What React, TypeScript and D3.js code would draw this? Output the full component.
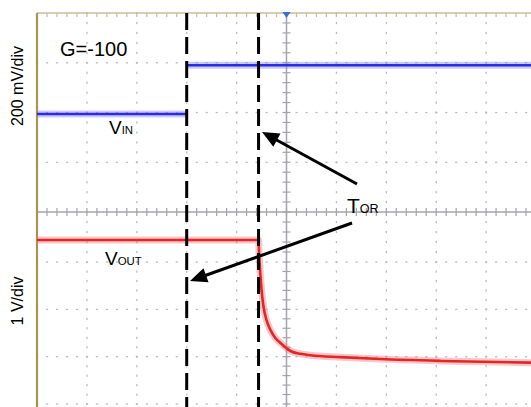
import { useEffect, useRef } from "react";
import * as d3 from "d3";

// time axis in divisions (0 = screen centre)
const vinLowTime = [-5, -2.0];
const vinLowLevel = [1.97, 1.97];
const vinHighTime = [-2.0, 5.1];
const vinHighLevel = [2.95, 2.95];

const voutTime = [-5, -0.56, -0.55, -0.5, -0.46, -0.4, -0.32, -0.22, -0.12, 0.08, 0.28, 0.48, 1.08, 1.88, 3.09, 5.1];
const voutLevel = [-0.56, -0.56, -0.8, -1.59, -1.95, -2.23, -2.44, -2.61, -2.71, -2.88, -2.94, -2.97, -3.01, -3.05, -3.09, -3.13];

const cursorTimes = [-2.0, -0.56];
const channelLabels = ["200 mV/div", "1 V/div"];

const W = 531;
const H = 407;

export default function App() {
  const ref = useRef<SVGSVGElement | null>(null);

  useEffect(() => {
    const svg = d3.select(ref.current);
    svg.selectAll("*").remove();

    const x = d3.scaleLinear().domain([-5, 5]).range([37, 536]);
    const y = d3.scaleLinear().domain([4, 0, -1, -4]).range([13, 212, 262, 404]);

    const g = svg.append("g");

    // dotted grid
    const minorX = d3.range(-5, 5.01, 0.2);
    const minorY = d3.range(-4.6, 4.01, 0.2);
    [-4, -3, -2, -1, 1, 2, 3, 4].forEach(t => {
      g.selectAll(null)
        .data(minorY)
        .enter()
        .append("rect")
        .attr("x", x(t) - 0.6)
        .attr("y", d => y(d) - 1)
        .attr("width", 1.3)
        .attr("height", 2.2)
        .attr("fill", "#bcbcbc");
    });
    [3, 2, 1, -1, -2, -3, -4].forEach(v => {
      g.selectAll(null)
        .data(minorX)
        .enter()
        .append("rect")
        .attr("x", d => x(d) - 1)
        .attr("y", y(v) - 0.6)
        .attr("width", 2.2)
        .attr("height", 1.3)
        .attr("fill", "#bcbcbc");
    });

    // centre axes with minor ticks
    g.append("line")
      .attr("x1", x(0)).attr("x2", x(0))
      .attr("y1", y(4)).attr("y2", H)
      .attr("stroke", "#a4a4ac").attr("stroke-width", 1.5);
    g.append("line")
      .attr("x1", x(-5)).attr("x2", W)
      .attr("y1", y(0)).attr("y2", y(0))
      .attr("stroke", "#a4a4ac").attr("stroke-width", 1.5);
    g.selectAll(null)
      .data(minorY)
      .enter()
      .append("line")
      .attr("x1", x(0) - 4).attr("x2", x(0) + 4)
      .attr("y1", d => y(d)).attr("y2", d => y(d))
      .attr("stroke", "#a4a4ac").attr("stroke-width", 1.2);
    g.selectAll(null)
      .data(minorX)
      .enter()
      .append("line")
      .attr("x1", d => x(d)).attr("x2", d => x(d))
      .attr("y1", y(0) - 4).attr("y2", y(0) + 4)
      .attr("stroke", "#a4a4ac").attr("stroke-width", 1.2);

    // frame (top + left)
    g.append("line")
      .attr("x1", x(-5)).attr("x2", W)
      .attr("y1", y(4)).attr("y2", y(4))
      .attr("stroke", "#c8bc98").attr("stroke-width", 1.5);
    g.selectAll(null)
      .data(minorX)
      .enter()
      .append("line")
      .attr("x1", d => x(d)).attr("x2", d => x(d))
      .attr("y1", y(4)).attr("y2", y(4) + 4)
      .attr("stroke", "#c8bc98").attr("stroke-width", 1.2);
    g.append("line")
      .attr("x1", x(-5)).attr("x2", x(-5))
      .attr("y1", y(4)).attr("y2", H)
      .attr("stroke", "#a89450").attr("stroke-width", 2.2);

    // trigger marker
    g.append("path")
      .attr("d", `M${x(0) - 4},${y(4) - 1}L${x(0) + 4},${y(4) - 1}L${x(0)},${y(4) + 5}Z`)
      .attr("fill", "#3a6ed0");

    // traces
    const line = d3.line<[number, number]>().x(d => x(d[0])).y(d => y(d[1])).curve(d3.curveMonotoneX);
    const zip = (ts: number[], vs: number[]) => ts.map((t, i) => [t, vs[i]] as [number, number]);

    const drawTrace = (pts: [number, number][], halo: string, core: string) => {
      g.append("path").attr("d", line(pts)).attr("fill", "none")
        .attr("stroke", halo).attr("stroke-opacity", 0.4).attr("stroke-width", 7);
      g.append("path").attr("d", line(pts)).attr("fill", "none")
        .attr("stroke", core).attr("stroke-width", 2.6);
    };
    drawTrace(zip(vinLowTime, vinLowLevel), "#7c7cf6", "#2b2be0");
    drawTrace(zip(vinHighTime, vinHighLevel), "#7c7cf6", "#2b2be0");
    drawTrace(zip(voutTime, voutLevel), "#f27474", "#e2262a");

    // cursors
    g.selectAll(null)
      .data(cursorTimes)
      .enter()
      .append("line")
      .attr("x1", d => x(d)).attr("x2", d => x(d))
      .attr("y1", y(4)).attr("y2", H)
      .attr("stroke", "#000").attr("stroke-width", 3)
      .attr("stroke-dasharray", "17,7");

    // arrows
    const arrow = (x0: number, y0: number, x1: number, y1: number) => {
      const a = Math.atan2(y1 - y0, x1 - x0);
      const len = 17, hw = 7.5;
      const bx = x1 - len * Math.cos(a), by = y1 - len * Math.sin(a);
      g.append("line")
        .attr("x1", x0).attr("y1", y0).attr("x2", bx + 3 * Math.cos(a)).attr("y2", by + 3 * Math.sin(a))
        .attr("stroke", "#000").attr("stroke-width", 3);
      g.append("path")
        .attr("d", `M${x1},${y1}L${bx - hw * Math.sin(a)},${by + hw * Math.cos(a)}L${bx + hw * Math.sin(a)},${by - hw * Math.cos(a)}Z`)
        .attr("fill", "#000");
    };
    arrow(357, 184, 262, 132);
    arrow(352, 223, 190, 281);

    // labels
    const font = "Liberation Sans, Arial, sans-serif";
    g.append("text").attr("x", 60).attr("y", 56)
      .attr("font-family", font).attr("font-size", 20).attr("fill", "#000")
      .text("G=-100");

    [[86, channelLabels[0]], [301, channelLabels[1]]].forEach(([cy, label]) => {
      g.append("text")
        .attr("transform", `translate(23,${cy}) rotate(-90)`)
        .attr("text-anchor", "middle")
        .attr("font-family", font).attr("font-size", 16).attr("fill", "#000")
        .text(label as string);
    });

    const sub = (px: number, py: number, main: string, small: string, size: number) => {
      const t = g.append("text").attr("x", px).attr("y", py)
        .attr("font-family", font).attr("fill", "#000");
      t.append("tspan").attr("font-size", size).text(main);
      t.append("tspan").attr("font-size", size * 0.6).text(small);
    };
    sub(109, 134, "V", "IN", 19);
    sub(105, 265, "V", "OUT", 19);
    sub(347, 213, "T", "OR", 21);
  }, []);

  return (
    <svg
      ref={ref}
      width={W}
      height={H}
      style={{ position: "absolute", left: 0, top: 0, background: "#fff" }}
    />
  );
}
